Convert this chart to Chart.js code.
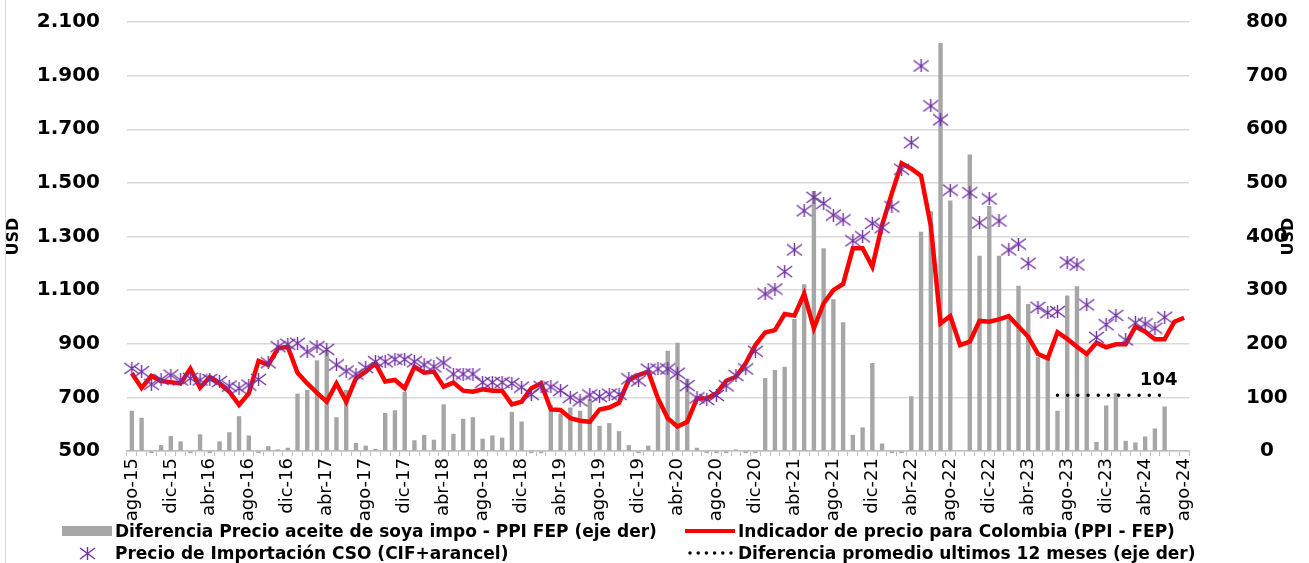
<!DOCTYPE html>
<html lang="es">
<head>
<meta charset="utf-8">
<title>Precio aceite de soya</title>
<script src="https://cdn.jsdelivr.net/npm/chart.js@4.4.1/dist/chart.umd.min.js"></script>
<style>
  html, body { margin: 0; padding: 0; background: #fff; }
  .wrap { position: relative; width: 1309px; height: 563px; }
  .frame { position: absolute; left: 5px; top: 0; width: 1px; height: 563px; background: #d9d9d9; }
  .legend { position: absolute; left: 0; top: 519px; width: 1309px; height: 44px;
            font-family: "DejaVu Sans", sans-serif; font-weight: bold; font-size: 17px; color: #000; }
  .item { position: absolute; display: flex; align-items: center; height: 22px; white-space: nowrap; }
  .mark { width: 50px; height: 22px; margin-right: 3px; display: flex; align-items: center; justify-content: center; }
</style>
</head>
<body>
<div class="wrap">
  <canvas id="grafico"></canvas>
  <div class="frame"></div>
  <div class="legend">
    <div class="item" style="left:62px;top:1px">
      <span class="mark"><span style="display:block;width:50px;height:10px;background:#a6a6a6"></span></span>
      <span>Diferencia Precio aceite de soya impo - PPI FEP (eje der)</span>
    </div>
    <div class="item" style="left:685px;top:1px">
      <span class="mark"><span style="display:block;width:50px;height:4px;background:#ff0000"></span></span>
      <span>Indicador de precio para Colombia (PPI - FEP)</span>
    </div>
    <div class="item" style="left:62px;top:23px">
      <span class="mark">
        <svg width="17" height="13" viewBox="0 0 17 13">
          <path d="M1 1L16 12M16 1L1 12M8.5 0V13" stroke="#7030a0" stroke-width="1.4" fill="none"/>
        </svg>
      </span>
      <span>Precio de Importación CSO (CIF+arancel)</span>
    </div>
    <div class="item" style="left:685px;top:23px">
      <span class="mark">
        <svg width="50" height="6" viewBox="0 0 50 6">
          <path d="M5 3H46" stroke="#000" stroke-width="3.5" stroke-linecap="round" stroke-dasharray="0 8.2" fill="none"/>
        </svg>
      </span>
      <span>Diferencia promedio ultimos 12 meses (eje der)</span>
    </div>
  </div>
</div>

<script>
// meses ago-15 ... ago-24
const meses = ["ene", "feb", "mar", "abr", "may", "jun", "jul", "ago", "sep", "oct", "nov", "dic"];
const categorias = [];
for (let k = 0; k < 109; k++) {
  categorias.push(meses[(7 + k) % 12] + "-" + (15 + Math.floor((7 + k) / 12)));
}

// Diferencia precio aceite de soya impo - PPI FEP (eje der)
const diferencia = [
  75, 62, -4, 11, 28, 18, -4, 31, -4, 18, 35, 65, 29, -4, 9, 3, 6, 107, 114, 169,
  188, 63, 114, 15, 10, 4, 71, 76, 110, 20, 30, 21, 87, 32, 60, 63, 23, 29, 25, 73,
  55, -4, -4, 86, 70, 81, 75, 97, 47, 52, 37, 11, -4, 10, 96, 187, 202, 135, 6, -4,
  -4, -4, 3, -4, -4, 136, 151, 157, 246, 311, 485, 378, 283, 240, 30, 44, 164, 14, -4, -4,
  102, 409, 447, 761, 467, null, 553, 364, 457, 364, 245, 308, 274, 175, 173, 75, 290, 307, 179, 17,
  85, 108, 19, 16, 27, 42, 83, null, null
];

// Indicador de precio para Colombia (PPI - FEP)
const indicador = [
  790, 735, 780, 761, 756, 752, 807, 736, 775, 752, 721, 672, 715, 836, 821, 883, 889, 792, 752, 717,
  684, 752, 684, 771, 796, 827, 759, 765, 734, 814, 792, 796, 740, 755, 725, 721, 730, 725, 725, 674,
  684, 734, 752, 655, 653, 622, 613, 609, 655, 662, 680, 765, 783, 796, 696, 622, 591, 609, 696, 696,
  715, 762, 777, 827, 895, 942, 951, 1011, 1005, 1086, 958, 1051, 1100, 1123, 1256, 1256, 1187, 1343, 1461, 1573,
  1553, 1526, 1340, 976, 1003, 895, 908, 985, 982, 991, 1003, 964, 926, 862, 846, 943, 918, 889, 862, 904,
  887, 898, 898, 964, 945, 917, 917, 982, 997
];

// Precio de importacion CSO (CIF + arancel)
const precioCSO = [
  808, 796, 749, 767, 783, 765, 771, 765, 767, 759, 742, 734, 746, 767, 829, 889, 898, 902, 870, 889,
  879, 821, 798, 787, 811, 833, 833, 842, 842, 833, 821, 814, 829, 787, 787, 787, 756, 756, 756, 752,
  738, 711, 740, 739, 726, 700, 687, 709, 703, 712, 711, 769, 762, 805, 806, 806, 790, 744, 698, 692,
  707, 743, 782, 806, 872, 1086, 1104, 1169, 1250, 1396, 1446, 1424, 1380, 1362, 1284, 1299, 1349, 1333, 1411, 1551,
  1650, 1936, 1787, 1735, 1473, null, 1463, 1351, 1440, 1358, 1250, 1272, 1200, 1036, 1016, 1020, 1204, 1194, 1045, 924,
  971, 1006, 914, 978, 974, 958, 999, null, null
];

// promedio de la diferencia en los ultimos 12 meses con dato
const promedio12 = 104;
const promedioDesde = 95;
const promedioHasta = 106;
const promedio = categorias.map((c, i) => (i >= promedioDesde && i <= promedioHasta ? promedio12 : null));

// ticks de los ejes
const ticksIzq = [500, 700, 900, 1100, 1300, 1500, 1700, 1900, 2100];
const ticksDer = [0, 100, 200, 300, 400, 500, 600, 700, 800];

function miles(v) {
  if (v < 1000) return String(v);
  return Math.floor(v / 1000) + "." + String(v % 1000).padStart(3, "0");
}

// marcador asterisco (X + barra vertical)
function asterisco() {
  const c = document.createElement("canvas");
  c.width = 17;
  c.height = 13;
  const g = c.getContext("2d");
  g.strokeStyle = "#7030a0";
  g.lineWidth = 1.4;
  g.beginPath();
  g.moveTo(1, 1); g.lineTo(16, 12);
  g.moveTo(16, 1); g.lineTo(1, 12);
  g.moveTo(8.5, 0); g.lineTo(8.5, 13);
  g.stroke();
  return c;
}

// evita que el padding de los ticks empuje el area del grafico
function ajusteVertical(ancho) {
  return (s) => {
    s.width = ancho;
    s.paddingTop = 12;
    s.paddingBottom = 12;
  };
}

// etiqueta con el valor del promedio y titulo girado del eje derecho
const textosExtra = {
  id: "textosExtra",
  afterDatasetsDraw(chart) {
    const ctx = chart.ctx;
    const meta = chart.getDatasetMeta(3);
    const pt = meta.data[promedioHasta];
    ctx.save();
    ctx.font = "bold 18px 'DejaVu Sans'";
    ctx.fillStyle = "#000";
    ctx.textAlign = "center";
    ctx.textBaseline = "middle";
    ctx.fillText(String(chart.data.datasets[3].data[promedioHasta]), pt.x - 6, pt.y - 15);

    const area = chart.chartArea;
    ctx.translate(chart.scales.y1.right - 20, (area.top + area.bottom) / 2);
    ctx.rotate(-Math.PI / 2);
    ctx.font = "bold 16px 'DejaVu Sans'";
    ctx.fillText("USD", 0, 0);
    ctx.restore();
  },
};

const ctx = document.getElementById("grafico").getContext("2d");
const grafico = new Chart(ctx, {
  data: {
    labels: categorias,
    datasets: [
      {
        type: "bar",
        label: "Diferencia Precio aceite de soya impo - PPI FEP (eje der)",
        data: diferencia,
        yAxisID: "y1",
        backgroundColor: "#a6a6a6",
        barPercentage: 0.45,
        categoryPercentage: 1,
        clip: false,
        order: 4,
      },
      {
        type: "line",
        label: "Indicador de precio para Colombia (PPI - FEP)",
        data: indicador,
        yAxisID: "y",
        borderColor: "#ff0000",
        borderWidth: 4.5,
        pointRadius: 0,
        tension: 0,
        order: 2,
      },
      {
        type: "line",
        label: "Precio de Importación CSO (CIF+arancel)",
        data: precioCSO,
        yAxisID: "y",
        showLine: false,
        pointStyle: asterisco(),
        pointRadius: 7,
        order: 1,
      },
      {
        type: "line",
        label: "Diferencia promedio ultimos 12 meses (eje der)",
        data: promedio,
        yAxisID: "y1",
        borderColor: "#000",
        borderWidth: 3.5,
        borderDash: [0, 10.2],
        borderCapStyle: "round",
        pointRadius: 0,
        order: 0,
      },
    ],
  },
  options: {
    responsive: true,
    maintainAspectRatio: false,
    animation: false,
    layout: { padding: { top: 22, left: 0, right: 0, bottom: 0 } },
    plugins: {
      legend: { display: false },
      tooltip: { enabled: false },
    },
    scales: {
      x: {
        offset: true,
        grid: { display: true, drawOnChartArea: false, drawTicks: true, tickLength: 5, color: "#bfbfbf", offset: true },
        border: { color: "#bfbfbf", width: 1.5 },
        ticks: {
          autoSkip: false,
          maxRotation: 90,
          minRotation: 90,
          padding: 2,
          color: "#000",
          font: { family: "DejaVu Sans", size: 18 },
          callback: (v, i) => (i % 4 === 0 ? categorias[i] : ""),
        },
        afterFit: (s) => { s.height = 112; },
      },
      y: {
        position: "left",
        min: ticksIzq[0],
        max: ticksIzq[ticksIzq.length - 1],
        afterBuildTicks: (s) => { s.ticks = ticksIzq.map((v) => ({ value: v })); },
        grid: { color: "#d9d9d9", lineWidth: 1.5, drawTicks: false },
        border: { display: false },
        ticks: {
          padding: 27,
          color: "#000",
          font: { family: "DejaVu Sans", size: 20, weight: "bold" },
          callback: (v) => miles(v),
        },
        title: { display: true, text: "USD", color: "#000", font: { family: "DejaVu Sans", size: 16, weight: "bold" } },
        afterFit: ajusteVertical(127),
      },
      y1: {
        position: "right",
        min: ticksDer[0],
        max: ticksDer[ticksDer.length - 1],
        afterBuildTicks: (s) => { s.ticks = ticksDer.map((v) => ({ value: v })); },
        grid: { drawOnChartArea: false, drawTicks: false },
        border: { display: false },
        ticks: {
          padding: 57,
          crossAlign: "center",
          color: "#000",
          font: { family: "DejaVu Sans", size: 20, weight: "bold" },
        },
        afterFit: ajusteVertical(120),
      },
    },
  },
  plugins: [textosExtra],
});
</script>
</body>
</html>
